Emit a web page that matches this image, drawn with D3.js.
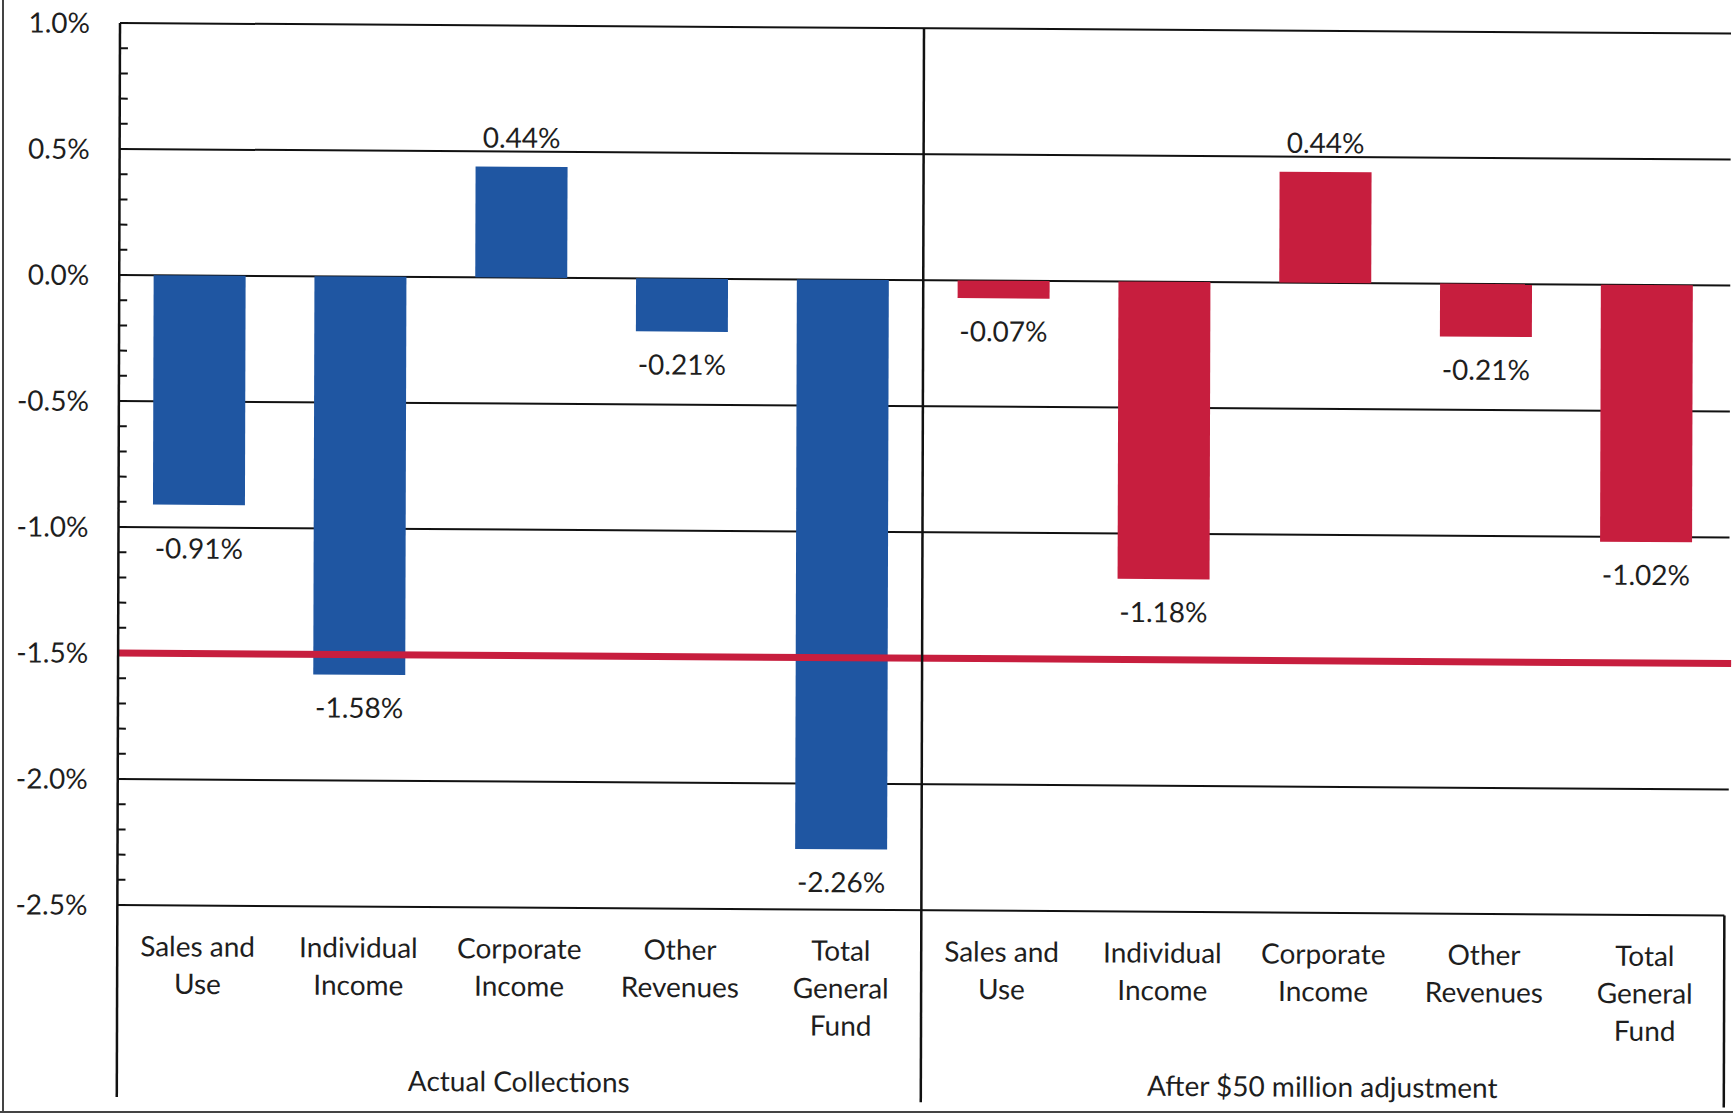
<!DOCTYPE html>
<html><head><meta charset="utf-8">
<script src="https://cdn.jsdelivr.net/npm/d3@7"></script>
<style>
html,body{margin:0;padding:0;background:#fff;}
svg{display:block;}
text{font-family:Lato,"Open Sans",sans-serif;fill:#1e1e1e;}
</style></head>
<body>
<svg id="chart" width="1733" height="1117"></svg>
<script>
const categories = [["Sales and","Use"],["Individual","Income"],["Corporate","Income"],["Other","Revenues"],["Total","General","Fund"]];
const groups = ["Actual Collections","After $50 million adjustment"];
const actualValues = [-0.91,-1.58,0.44,-0.21,-2.26];
const adjustedValues = [-0.07,-1.18,0.44,-0.21,-1.02];
const targetLine = -1.5;
const yTicks = [1.0,0.5,0.0,-0.5,-1.0,-1.5,-2.0,-2.5];

(function(){
const BLUE = "#1f56a2", RED = "#c71e3e";
const FS = 28;
const loc = d3.formatLocale({decimal:".",thousands:",",grouping:[3],currency:["$",""],minus:"-"});
const f1 = loc.format(".1f"), f2 = loc.format(".2f");
const svg = d3.select("#chart");

// outer frame of scanned page
svg.append("line").attr("x1",3).attr("x2",3).attr("y1",0).attr("y2",1112).attr("stroke","#444").attr("stroke-width",2);
svg.append("line").attr("x1",0).attr("x2",1733).attr("y1",1112).attr("y2",1112).attr("stroke","#444").attr("stroke-width",2);

const pL = 120, pR = 1728, pT = 23, pB = 905;
// slight scan skew
const g = svg.append("g").attr("transform",`translate(${pL},${pT}) matrix(1,0.0065,-0.003,1,0,0) translate(${-pL},${-pT})`);

const y = d3.scaleLinear().domain([1.0,-2.5]).range([pT,pB]);
const data = [];
groups.forEach((gr,gi)=>{
  const vals = gi===0?actualValues:adjustedValues;
  categories.forEach((c,ci)=>data.push({key:gi+"-"+ci,g:gi,c:ci,v:vals[ci],lab:c}));
});
const x = d3.scaleBand().domain(data.map(d=>d.key)).range([pL,pR]).paddingInner(0.428).paddingOuter(0.214);
const mid = x.step()*5 + pL;

// minor ticks
const minor = d3.range(-25,11).map(i=>i/10);
g.selectAll(".minor").data(minor).join("line")
  .attr("x1",pL).attr("x2",pL+8).attr("y1",d=>y(d)).attr("y2",d=>y(d))
  .attr("stroke","#111").attr("stroke-width",2);

// gridlines
g.selectAll(".grid").data(yTicks).join("line")
  .attr("x1",pL).attr("x2",d=>d===-2.5?1727:1731).attr("y1",d=>y(d)).attr("y2",d=>y(d))
  .attr("stroke","#111").attr("stroke-width",2);

// tick labels
g.selectAll(".tl").data(yTicks).join("text")
  .attr("x",90).attr("y",d=>y(d)).attr("dy","0.36em").attr("text-anchor","end")
  .attr("font-size",FS).text(d=>f1(d)+"%");

// bars
g.selectAll(".bar").data(data).join("rect")
  .attr("x",d=>x(d.key)).attr("width",x.bandwidth())
  .attr("y",d=>y(Math.max(0,d.v))).attr("height",d=>Math.abs(y(d.v)-y(0)))
  .attr("fill",d=>d.g===0?BLUE:RED);

// value labels (pushed clear of a gridline if they would sit on it)
function labelY(d){
  if(d.v>=0) return y(d.v)-29;
  let cy = y(d.v)+33;
  yTicks.forEach(t=>{ const gy=y(t); if(Math.abs(cy-gy)<13 && gy>y(d.v)) cy = gy+21; });
  return cy;
}
g.selectAll(".vl").data(data).join("text")
  .attr("x",d=>x(d.key)+x.bandwidth()/2)
  .attr("y",labelY).attr("dy","0.36em")
  .attr("text-anchor","middle").attr("font-size",FS)
  .text(d=>f2(d.v)+"%");

// target line
g.append("line").attr("x1",pL).attr("x2",1733).attr("y1",y(targetLine)).attr("y2",y(targetLine))
  .attr("stroke",RED).attr("stroke-width",7);

// axes / dividers
g.append("line").attr("x1",pL).attr("x2",pL).attr("y1",pT).attr("y2",1097).attr("stroke","#111").attr("stroke-width",2.5);
g.append("line").attr("x1",mid).attr("x2",mid).attr("y1",pT).attr("y2",1097).attr("stroke","#111").attr("stroke-width",2.5);
g.append("line").attr("x1",1727).attr("x2",1727).attr("y1",pB).attr("y2",1097).attr("stroke","#111").attr("stroke-width",2.5);

// category labels
const cl = g.selectAll(".cl").data(data).join("text")
  .attr("text-anchor","middle").attr("font-size",FS)
  .attr("transform",d=>`translate(${x(d.key)+x.bandwidth()/2},956)`);
cl.selectAll("tspan").data(d=>d.lab).join("tspan")
  .attr("x",0).attr("y",(d,i)=>i*37.5).text(d=>d);

// group labels
g.selectAll(".gl").data(groups).join("text")
  .attr("x",(d,i)=>i===0?(pL+mid)/2:(mid+1727)/2).attr("y",1089)
  .attr("text-anchor","middle").attr("font-size",FS).text(d=>d);
})();
</script>
</body></html>
